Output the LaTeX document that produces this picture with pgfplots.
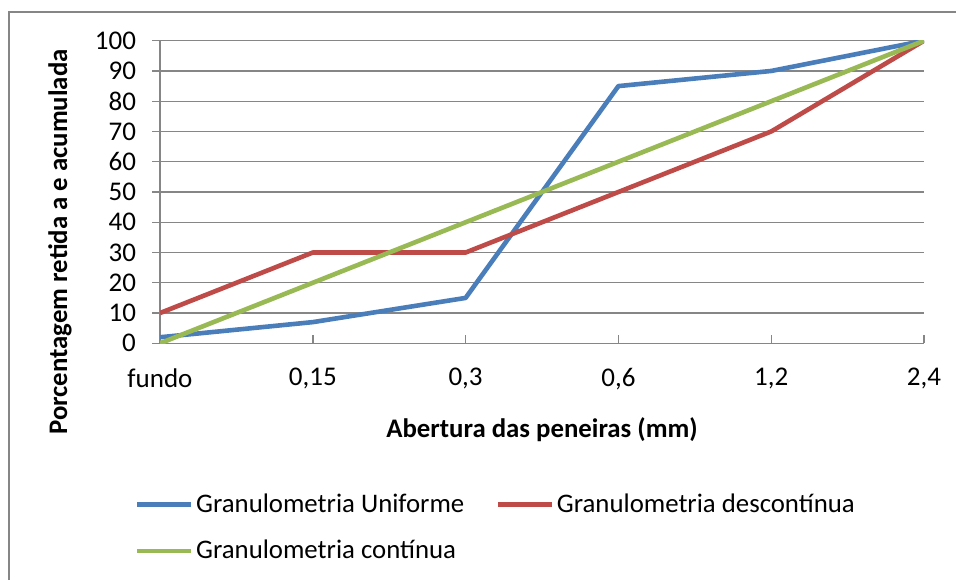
\documentclass[border=0pt]{standalone}
\usepackage{pgfplots}
\pgfplotsset{compat=1.18}
\usepackage{fontspec}
\setmainfont{Carlito}
\definecolor{cblue}{HTML}{4A7EBB}
\definecolor{cred}{HTML}{BE4B48}
\definecolor{cgreen}{HTML}{98B954}
\definecolor{cgrid}{HTML}{868686}
\begin{document}
\begin{tikzpicture}
\useasboundingbox (0,0) rectangle (478pt,290pt);
\draw[cgrid, line width=0.7pt] (4.5pt,0) -- (4.5pt,284pt) -- (478pt,284pt);
\begin{axis}[
  at={(80pt,118.35pt)}, anchor=south west,
  scale only axis, width=382pt, height=151.3pt,
  xmin=0, xmax=5, ymin=0, ymax=100,
  xtick={0,1,2,3,4,5},
  xticklabels={fundo,{0,15},{0,3},{0,6},{1,2},{2,4}},
  ytick={0,10,...,100},
  axis lines*=left,
  axis line style={cgrid, line width=0.7pt},
  ymajorgrids, grid style={cgrid, line width=0.6pt},
  tick align=outside, major tick length=4pt,
  tick style={cgrid, line width=0.7pt},
  xtick style={yshift=4pt},
  font=\fontsize{13.5}{15}\selectfont,
  /pgf/number format/assume math mode=true,
  yticklabel style={font=\fontsize{13.5}{15}\selectfont, xshift=-4.5pt},
  xticklabel style={font=\fontsize{13.5}{15}\selectfont, yshift=-5pt},
  xlabel={\bfseries Abertura das peneiras (mm)},
  xlabel style={at={(axis description cs:0.5,-0.312)}, anchor=base, font=\fontsize{13.4}{15}\selectfont},
  ylabel={\bfseries Porcentagem retida a e acumulada},
  ylabel style={at={(axis description cs:-0.1217,0.335)}, anchor=base, font=\fontsize{13.4}{15}\selectfont},
  legend columns=2,
  legend cell align=left,
  legend image code/.code={\draw[#1] (0pt,0pt) -- (27pt,0pt);},
  legend style={draw=none, fill=none, inner sep=0pt, outer sep=0pt,
    at={(axis description cs:-0.0327,-0.488)}, anchor=north west,
    font=\fontsize{13.4}{15}\selectfont,
    nodes={inner sep=1.25pt},
    row sep=10pt,
    /tikz/every even column/.append style={column sep=14.5pt}},
]
\addplot[cblue, line width=2.3pt, line join=round] coordinates {(0,2) (1,7) (2,15) (3,85) (4,90) (5,100)};
\addlegendentry{Granulometria Uniforme}
\addplot[cred, line width=2.3pt, line join=round] coordinates {(0,10) (1,30) (2,30) (3,50) (4,70) (5,100)};
\addlegendentry{Granulometria descontínua}
\addplot[cgreen, line width=2.3pt, line join=round] coordinates {(0,0) (1,20) (2,40) (3,60) (4,80) (5,100)};
\addlegendentry{Granulometria contínua}
\end{axis}
\end{tikzpicture}
\end{document}
